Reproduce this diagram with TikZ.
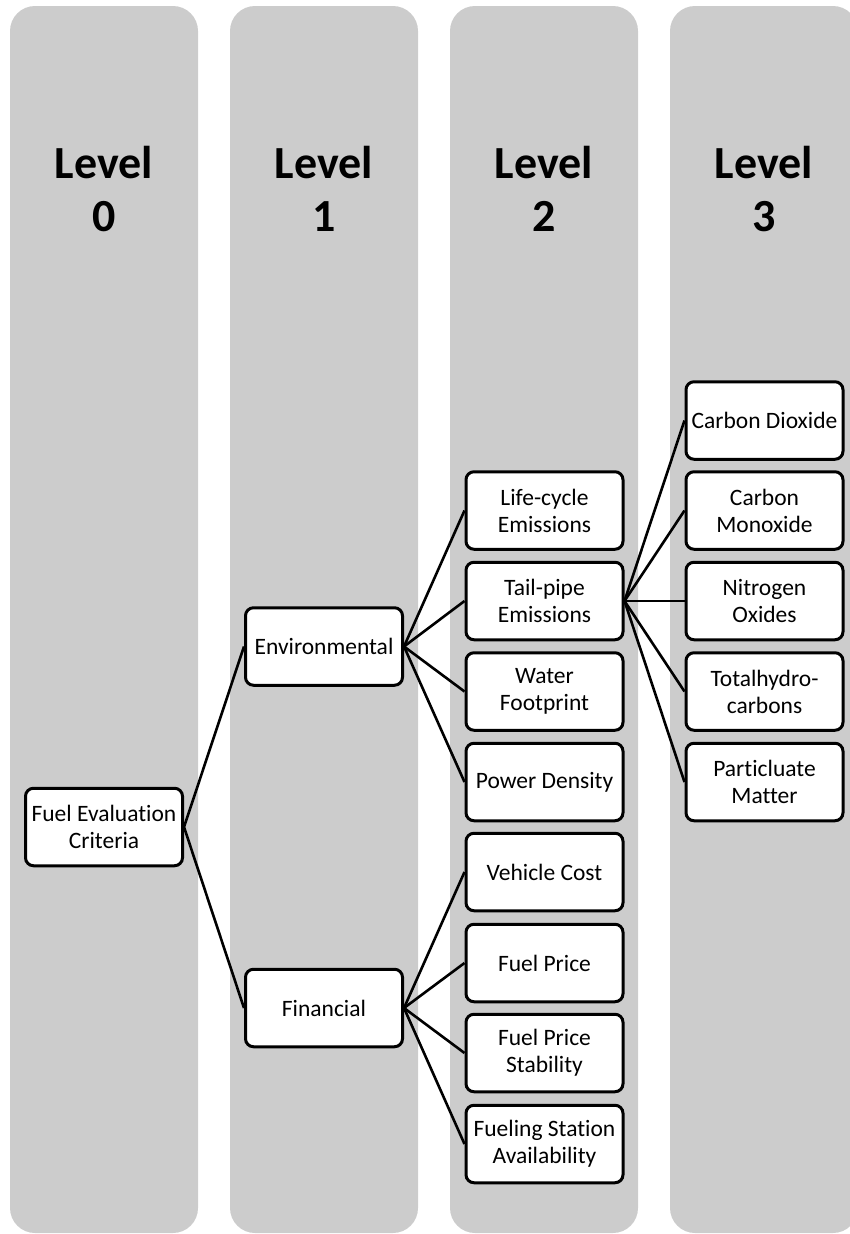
\documentclass[tikz,border=0pt]{standalone}
\usepackage{fontspec}
\setmainfont{Carlito}[Ligatures=NoCommon]
\definecolor{colgray}{RGB}{204,204,204}
\begin{document}
\begin{tikzpicture}[x=1pt,y=-1pt,
  box/.style={draw=black, line width=3pt, fill=white, rounded corners=8pt,
    minimum width=157pt, minimum height=77.5pt, inner sep=0pt, align=center,
    font=\fontsize{23.5}{27}\selectfont},
  link/.style={draw=black, line width=2.6pt},
  levellabel/.style={align=center, inner sep=0pt, font=\fontsize{46}{53}\selectfont\bfseries},
  colbg/.style={fill=colgray, rounded corners=25pt}]
\useasboundingbox (0,0) rectangle (850,1234);
\begin{scope}
\clip (0,0) rectangle (850,1234);
\fill[colbg] (10,6) rectangle (198,1233);
\fill[colbg] (230,6) rectangle (418,1233);
\fill[colbg] (450,6) rectangle (638,1233);
\fill[colbg] (670,6) rectangle (858,1233);
\end{scope}
\node[levellabel] (l0) at (104,189) {Level\\0};
\node[levellabel] (l1) at (324,189) {Level\\1};
\node[levellabel] (l2) at (544,189) {Level\\2};
\node[levellabel] (l3) at (764,189) {Level\\3};

\node[box] (root) at (104,827) {Fuel Evaluation\\Criteria};
\node[box] (env) at (324,646.5) {Environmental};
\node[box] (fin) at (324,1008) {Financial};

\node[box] (lce) at (544.5,510.5) {Life-cycle\\Emissions};
\node[box] (tpe) at (544.5,601) {Tail-pipe\\Emissions};
\node[box] (wfp) at (544.5,691.5) {Water\\Footprint};
\node[box] (pd) at (544.5,782) {Power Density};

\node[box] (vc) at (544.5,872) {Vehicle Cost};
\node[box] (fp) at (544.5,963) {Fuel Price};
\node[box] (fps) at (544.5,1053) {Fuel Price\\Stability};
\node[box] (fsa) at (544.5,1144) {Fueling Station\\Availability};

\node[box] (co2) at (764.5,420.5) {Carbon Dioxide};
\node[box] (co) at (764.5,510.5) {Carbon\\Monoxide};
\node[box] (nox) at (764.5,601) {Nitrogen\\Oxides};
\node[box] (thc) at (764.5,691.5) {Totalhydro-\\carbons};
\node[box] (pm) at (764.5,782) {Particluate\\Matter};

\foreach \c in {env,fin} \draw[link] (root.east) -- (\c.west);
\foreach \c in {lce,tpe,wfp,pd} \draw[link] (env.east) -- (\c.west);
\foreach \c in {vc,fp,fps,fsa} \draw[link] (fin.east) -- (\c.west);
\foreach \c in {co2,co,nox,thc,pm} \draw[link] (tpe.east) -- (\c.west);
\end{tikzpicture}
\end{document}
